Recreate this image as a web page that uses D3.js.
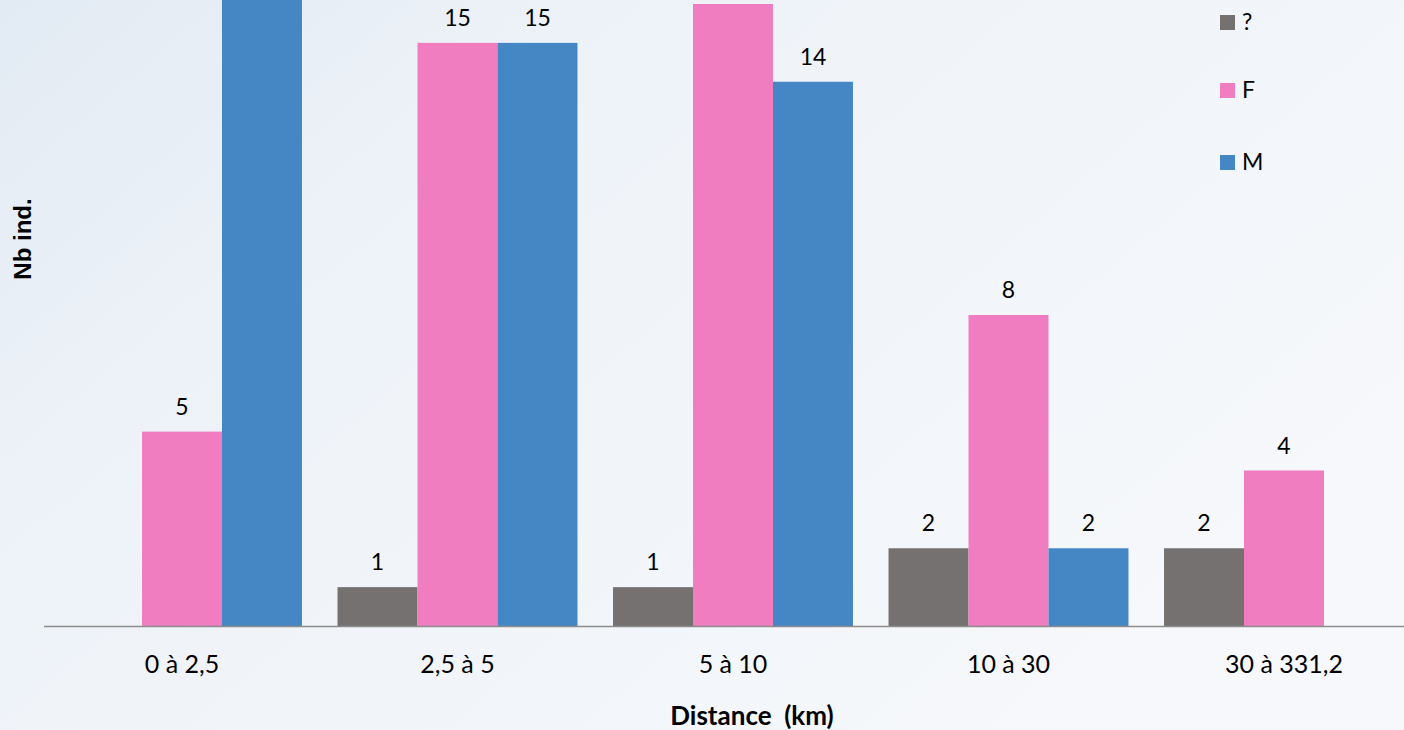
<!DOCTYPE html>
<html>
<head>
<meta charset="utf-8">
<script src="https://cdn.jsdelivr.net/npm/d3@7"></script>
<style>
  html, body { margin: 0; padding: 0; overflow: hidden; }
  body { width: 1404px; height: 730px; }
  text { font-family: Lato, "Open Sans", sans-serif; }
</style>
</head>
<body>
<div id="chart"></div>
<script>
var categories = ["0 à 2,5", "2,5 à 5", "5 à 10", "10 à 30", "30 à 331,2"];
var seriesNames = ["?", "F", "M"];
var unknownVals = [0, 1, 1, 2, 2];
var femaleVals = [5, 15, 16, 8, 4];
var maleVals = [18, 15, 14, 2, 0];
var colors = ["#767171", "#f07dc0", "#4587c5"];

var width = 1404,
height = 730,
baseY = 626;

var values = [unknownVals, femaleVals, maleVals];
var rows = categories.map(function(c, i) {
  return { cat: c, vals: values.map(function(v) { return v[i]; }) };
});

var svg = d3.select("#chart").append("svg")
  .attr("width", width)
  .attr("height", height);

// background, pale sky
var defs = svg.append("defs");
var grad = defs.append("linearGradient")
  .attr("id", "bg")
  .attr("x1", "0").attr("y1", "0")
  .attr("x2", "1").attr("y2", "0.6");
grad.append("stop").attr("offset", "0").attr("stop-color", "#e2eaf3");
grad.append("stop").attr("offset", "0.3").attr("stop-color", "#edf2f8");
grad.append("stop").attr("offset", "1").attr("stop-color", "#f6f8fb");
svg.append("rect")
  .attr("width", width)
  .attr("height", height)
  .attr("fill", "url(#bg)");

// the band continues past the right edge (chart is cut off)
var x = d3.scaleBand()
  .domain(categories)
  .range([44.25, 44.25 + 275.5 * categories.length])
  .paddingInner(0.129)
  .paddingOuter(0.0645);

var xs = d3.scaleBand()
  .domain(seriesNames)
  .range([0, x.bandwidth()]);

var y = d3.scaleLinear()
  .domain([0, 16])
  .range([baseY, 4]);

var group = svg.selectAll("g.grp")
  .data(rows)
  .enter().append("g")
  .attr("class", "grp")
  .attr("transform", function(d) { return "translate(" + x(d.cat) + ",0)"; });

var bars = group.selectAll("g.bar")
  .data(function(d) {
    return d.vals.map(function(v, i) { return { name: seriesNames[i], v: v, i: i }; })
      .filter(function(e) { return e.v > 0; });
  })
  .enter().append("g")
  .attr("class", "bar");

bars.append("rect")
  .attr("x", function(d) { return xs(d.name); })
  .attr("width", xs.bandwidth())
  .attr("y", function(d) { return y(d.v); })
  .attr("height", function(d) { return baseY - y(d.v); })
  .attr("fill", function(d) { return colors[d.i]; });

// labels above the top edge are not visible in the original
bars.filter(function(d) { return y(d.v) - 18 > 20; })
  .append("text")
  .attr("x", function(d) { return xs(d.name) + xs.bandwidth() / 2; })
  .attr("y", function(d) { return y(d.v) - 17; })
  .attr("text-anchor", "middle")
  .style("font-size", "23px")
  .style("fill", "#000")
  .text(function(d) { return d.v; });

// x axis
var xAxis = svg.append("g")
  .attr("transform", "translate(0," + baseY + ")")
  .call(d3.axisBottom(x).tickSize(0).tickPadding(29));
xAxis.select(".domain").remove();
xAxis.append("line")
  .attr("x1", 44).attr("x2", width)
  .attr("y1", 0.5).attr("y2", 0.5)
  .attr("stroke", "#8c8c8c")
  .attr("stroke-width", 1.5);
xAxis.selectAll(".tick text")
  .style("font-size", "25px")
  .style("font-family", "Lato, sans-serif")
  .attr("fill", "#000");

svg.append("text")
  .attr("x", 752)
  .attr("y", 725)
  .attr("text-anchor", "middle")
  .style("font-size", "26px")
  .style("font-weight", "bold")
  .style("white-space", "pre")
  .attr("xml:space", "preserve")
  .text("Distance  (km)");

svg.append("text")
  .attr("transform", "translate(31,239) rotate(-90)")
  .attr("text-anchor", "middle")
  .style("font-size", "24px")
  .style("font-weight", "bold")
  .style("font-family", "'Liberation Sans', Arial, sans-serif")
  .text("Nb ind.");

// legend
var legendY = [22, 90, 162];
var legend = svg.selectAll("g.leg")
  .data(seriesNames)
  .enter().append("g")
  .attr("class", "leg")
  .attr("transform", function(d, i) { return "translate(1220," + legendY[i] + ")"; });

legend.append("rect")
  .attr("x", 0).attr("y", -7)
  .attr("width", 15).attr("height", 15)
  .attr("fill", function(d, i) { return colors[i]; });

legend.append("text")
  .attr("x", 22)
  .attr("y", 8)
  .style("font-size", "23px")
  .text(function(d) { return d; });
</script>
</body>
</html>
